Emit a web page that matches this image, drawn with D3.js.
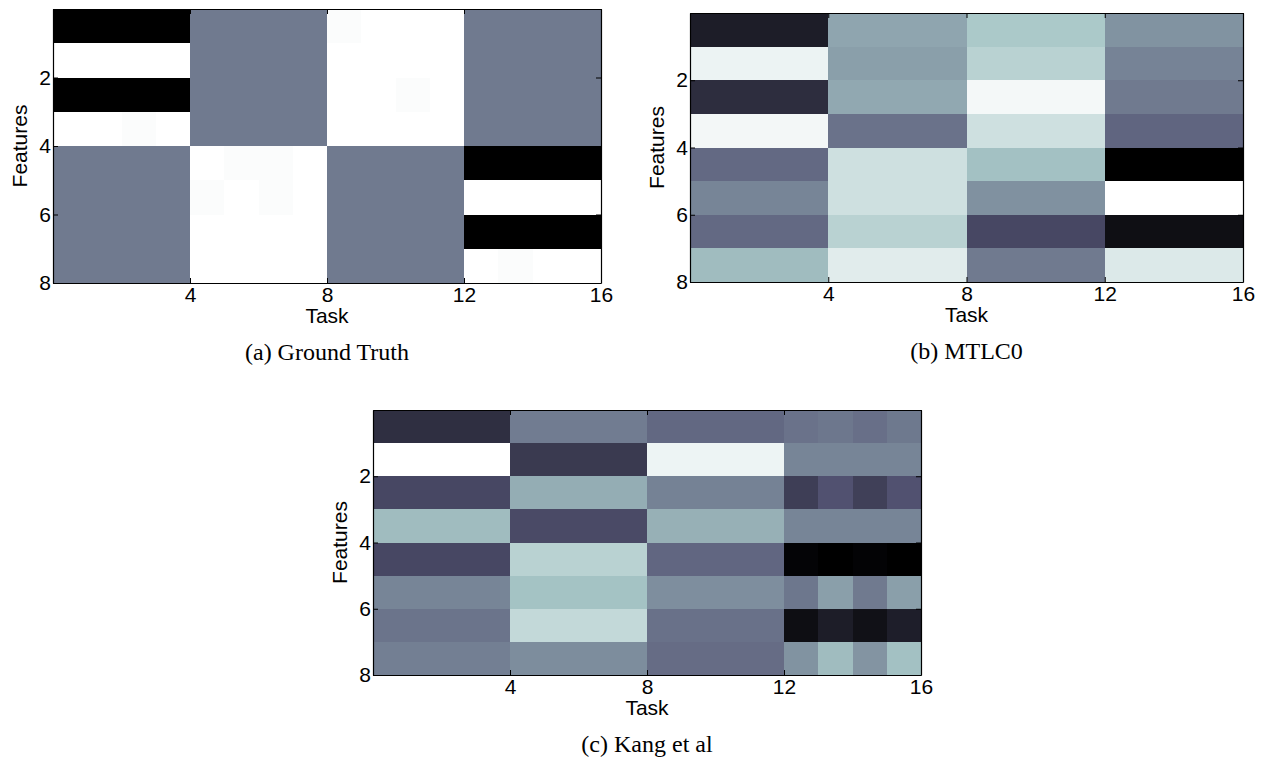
<!DOCTYPE html>
<html>
<head>
<meta charset="utf-8">
<script src="https://cdn.jsdelivr.net/npm/d3@7"></script>
<style>
  body { margin: 0; background: #fff; }
  svg { display: block; }
  .tick text, .lab { font-family: "Liberation Sans", Arial, sans-serif; font-size: 21px; fill: #000; }
  .cap { font-family: "Liberation Serif", "Times New Roman", serif; font-size: 24px; fill: #000; }
</style>
</head>
<body>
<svg id="chart" width="1269" height="770"></svg>
<script>
// tick labels
const xTicks = [4, 8, 12, 16];
const yTicks = [2, 4, 6, 8];

// (a) ground truth, rows = features 1..8, cols = tasks 1..16, range -1..1
const truthRows = [
  [-1, -1, -1, -1, 0, 0, 0, 0, 0.975, 1, 1, 1, 0, 0, 0, 0],
  [1, 1, 1, 1, 0, 0, 0, 0, 1, 1, 1, 1, 0, 0, 0, 0],
  [-1, -1, -1, -1, 0, 0, 0, 0, 1, 1, 0.975, 1, 0, 0, 0, 0],
  [1, 1, 0.975, 1, 0, 0, 0, 0, 1, 1, 1, 1, 0, 0, 0, 0],
  [0, 0, 0, 0, 1, 0.975, 0.975, 1, 0, 0, 0, 0, -1, -1, -1, -1],
  [0, 0, 0, 0, 0.975, 1, 0.975, 1, 0, 0, 0, 0, 1, 1, 1, 1],
  [0, 0, 0, 0, 1, 1, 1, 1, 0, 0, 0, 0, -1, -1, -1, -1],
  [0, 0, 0, 0, 1, 1, 1, 1, 0, 0, 0, 0, 1, 0.975, 1, 1]
];

// (b) MTLC0, normalised 0..1
const mtlcRows = [
  [0.13, 0.13, 0.13, 0.13, 0.64, 0.64, 0.64, 0.64, 0.76, 0.76, 0.76, 0.76, 0.58, 0.58, 0.58, 0.58],
  [0.945, 0.945, 0.945, 0.945, 0.62, 0.62, 0.62, 0.62, 0.80, 0.80, 0.80, 0.80, 0.53, 0.53, 0.53, 0.53],
  [0.20, 0.20, 0.20, 0.20, 0.65, 0.65, 0.65, 0.65, 0.97, 0.97, 0.97, 0.97, 0.50, 0.50, 0.50, 0.50],
  [0.965, 0.965, 0.965, 0.965, 0.475, 0.475, 0.475, 0.475, 0.86, 0.86, 0.86, 0.86, 0.43, 0.43, 0.43, 0.43],
  [0.445, 0.445, 0.445, 0.445, 0.86, 0.86, 0.86, 0.86, 0.73, 0.73, 0.73, 0.73, 0, 0, 0, 0],
  [0.535, 0.535, 0.535, 0.535, 0.86, 0.86, 0.86, 0.86, 0.575, 0.575, 0.575, 0.575, 1, 1, 1, 1],
  [0.445, 0.445, 0.445, 0.445, 0.80, 0.80, 0.80, 0.80, 0.32, 0.32, 0.32, 0.32, 0.065, 0.065, 0.065, 0.065],
  [0.715, 0.715, 0.715, 0.715, 0.915, 0.915, 0.915, 0.915, 0.50, 0.50, 0.50, 0.50, 0.90, 0.90, 0.90, 0.90]
];

// (c) Kang et al, normalised 0..1
const kangRows = [
  [0.21, 0.21, 0.21, 0.21, 0.505, 0.505, 0.505, 0.505, 0.44, 0.44, 0.44, 0.44, 0.475, 0.49, 0.465, 0.495],
  [1, 1, 1, 1, 0.26, 0.26, 0.26, 0.26, 0.95, 0.95, 0.95, 0.95, 0.535, 0.535, 0.535, 0.535],
  [0.32, 0.32, 0.32, 0.32, 0.665, 0.665, 0.665, 0.665, 0.525, 0.525, 0.525, 0.525, 0.28, 0.365, 0.285, 0.365],
  [0.715, 0.715, 0.715, 0.715, 0.33, 0.33, 0.33, 0.33, 0.675, 0.675, 0.675, 0.675, 0.535, 0.535, 0.535, 0.535],
  [0.32, 0.32, 0.32, 0.32, 0.80, 0.80, 0.80, 0.80, 0.435, 0.435, 0.435, 0.435, 0.02, 0, 0.015, 0],
  [0.535, 0.535, 0.535, 0.535, 0.735, 0.735, 0.735, 0.735, 0.565, 0.565, 0.565, 0.565, 0.49, 0.62, 0.50, 0.62],
  [0.48, 0.48, 0.48, 0.48, 0.83, 0.83, 0.83, 0.83, 0.47, 0.47, 0.47, 0.47, 0.063, 0.13, 0.075, 0.135],
  [0.515, 0.515, 0.515, 0.515, 0.56, 0.56, 0.56, 0.56, 0.455, 0.455, 0.455, 0.455, 0.58, 0.715, 0.585, 0.73]
];

// matlab "bone" colormap
function bone(t) {
  t = Math.max(0, Math.min(1, t));
  const hr = Math.min(1, t / 0.375);
  const hg = Math.max(0, Math.min(1, (t - 0.375) / 0.375));
  const hb = Math.max(0, Math.min(1, (t - 0.75) / 0.25));
  return d3.rgb(255 * (7 * t + hb) / 8, 255 * (7 * t + hg) / 8, 255 * (7 * t + hr) / 8).toString();
}

const panels = [
  { rows: truthRows, domain: [-1, 1], x0: 53, x1: 601, y0: 9, y1: 283, caption: "(a) Ground Truth" },
  { rows: mtlcRows, domain: [0, 1], x0: 690, x1: 1243, y0: 13, y1: 282, caption: "(b) MTLC0" },
  { rows: kangRows, domain: [0, 1], x0: 373, x1: 921, y0: 410, y1: 675, caption: "(c) Kang et al" }
];

const svg = d3.select("#chart");

panels.forEach(function(p) {
  const x = d3.scaleLinear().domain([0, 16]).range([p.x0, p.x1]);
  const y = d3.scaleLinear().domain([0, 8]).range([p.y0, p.y1]);
  const color = d3.scaleSequential(bone).domain(p.domain);

  const g = svg.append("g");

  const cells = [];
  p.rows.forEach(function(row, i) {
    row.forEach(function(v, j) {
      cells.push({ i: i, j: j, v: v });
    });
  });

  g.append("g").selectAll("rect")
    .data(cells)
    .join("rect")
    .attr("x", d => x(d.j))
    .attr("y", d => y(d.i))
    .attr("width", d => x(d.j + 1) - x(d.j) + 0.5)
    .attr("height", d => y(d.i + 1) - y(d.i) + 0.5)
    .attr("fill", d => color(d.v))
    .attr("shape-rendering", "crispEdges");

  // axes, ticks pointing inwards like matlab
  g.append("g")
    .attr("transform", `translate(0,${p.y1})`)
    .call(d3.axisBottom(x).tickValues(xTicks).tickSizeInner(-5).tickSizeOuter(0).tickPadding(4));
  g.append("g")
    .attr("transform", `translate(0,${p.y0})`)
    .call(d3.axisTop(x).tickValues(xTicks).tickSizeInner(-5).tickSizeOuter(0).tickFormat(""));
  g.append("g")
    .attr("transform", `translate(${p.x0},0)`)
    .call(d3.axisLeft(y).tickValues(yTicks).tickSizeInner(-5).tickSizeOuter(0).tickPadding(2));
  g.append("g")
    .attr("transform", `translate(${p.x1},0)`)
    .call(d3.axisRight(y).tickValues(yTicks).tickSizeInner(-5).tickSizeOuter(0).tickFormat(""));

  g.selectAll(".domain").attr("stroke", "#000").attr("stroke-width", 1.2);
  g.selectAll(".tick line").attr("stroke", "#000");
  g.selectAll(".tick text").attr("font-size", null).attr("font-family", null);

  g.append("text")
    .attr("class", "lab")
    .attr("x", (p.x0 + p.x1) / 2)
    .attr("y", p.y1 + 40)
    .attr("text-anchor", "middle")
    .text("Task");

  g.append("text")
    .attr("class", "lab")
    .attr("transform", `translate(${p.x0 - 26},${(p.y0 + p.y1) / 2}) rotate(-90)`)
    .attr("text-anchor", "middle")
    .text("Features");

  g.append("text")
    .attr("class", "cap")
    .attr("x", (p.x0 + p.x1) / 2)
    .attr("y", p.y1 + 77)
    .attr("text-anchor", "middle")
    .text(p.caption);
});
</script>
</body>
</html>
